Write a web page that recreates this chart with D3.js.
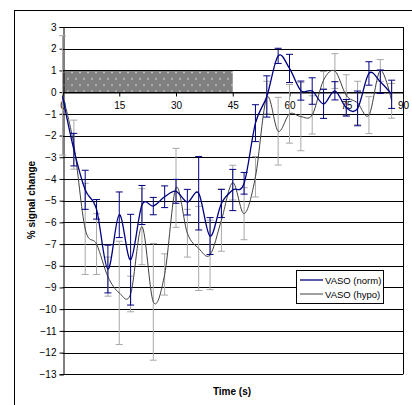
<!DOCTYPE html>
<html><head><meta charset="utf-8">
<script src="https://cdn.jsdelivr.net/npm/d3@7"></script>
<style>
html,body{margin:0;padding:0;background:#fff;}
svg{display:block;font-family:"Liberation Sans",Arial,sans-serif;}
</style></head>
<body><svg id="c" width="412" height="405"></svg>
<script>
const time = [0,3,6,9,12,15,18,21,24,27,30,33,36,39,42,45,48,51,54,57,60,63,66,69,72,75,78,81,84,87];
const norm = [-0.2,-2.65,-4.5,-5.4,-8.15,-5.65,-7.72,-5.2,-5.25,-4.82,-4.57,-5.07,-4.66,-6.63,-5.13,-4.51,-4.2,-1.43,-0.2,1.67,1.09,0.07,0.05,-0.54,0.06,-0.72,-0.75,0.86,0.48,-0.1];
const normErr = [0,0.75,0.9,0.45,1.1,1.05,2.09,0.9,0.4,0.5,0.55,0.59,1.69,0.85,0.65,0.95,0.5,0.85,0.95,0.35,0.65,0.44,0.61,0.67,0.42,0.38,0.8,0.54,0.54,0.65];
const hypo = [-0.15,-2.42,-6.3,-7.0,-8.5,-9.25,-9.3,-6.2,-9.66,-8.4,-4.41,-6.5,-7.2,-7.5,-5.9,-4.17,-5.6,-3.9,-0.25,-1.8,-1.0,-1.13,-1.05,0.55,0.97,-0.15,-0.5,-1.06,1.0,-0.4];
const hypoErr = [2.75,1.13,2.1,1.4,0.9,2.38,0.82,1.75,2.69,0.95,1.82,1.1,1.94,1.6,1.43,0.8,1.2,0.93,0.75,1.56,1.35,1.57,0.88,0.4,0.8,0.95,1.0,0.85,0.5,0.8];
const xTicks = [0,15,30,45,60,75,90];
const yTicks = [3,2,1,0,-1,-2,-3,-4,-5,-6,-7,-8,-9,-10,-11,-12,-13];
const stimulus = [0,45];
const seriesNames = ["VASO (norm)","VASO (hypo)"];

const svg = d3.select("#c");
const x = d3.scaleLinear().domain([0,90]).range([62.5,403]);
const y = d3.scaleLinear().domain([-13,3]).range([374.3,27]);

// outer frame
svg.append("rect").attr("x",14.5).attr("y",10.5).attr("width",430).attr("height",430)
  .attr("fill","none").attr("stroke","#000").attr("stroke-width",1);

// pattern for stimulus box
const defs = svg.append("defs");
const pat = defs.append("pattern").attr("id","dots").attr("patternUnits","userSpaceOnUse")
  .attr("width",8).attr("height",12.6).attr("x",62).attr("y",70);
pat.append("rect").attr("width",8).attr("height",12.6).attr("fill","#808080");
pat.append("circle").attr("cx",2).attr("cy",2.5).attr("r",0.8).attr("fill","#e8e8e8");
pat.append("circle").attr("cx",6).attr("cy",8.8).attr("r",0.8).attr("fill","#e8e8e8");

svg.append("rect").attr("x",x(stimulus[0])).attr("y",y(1))
  .attr("width",x(stimulus[1])-x(stimulus[0])).attr("height",y(0)-y(1))
  .attr("fill","url(#dots)");

// gridlines
svg.append("g").selectAll("line").data(yTicks).join("line")
  .attr("x1",x(0)).attr("x2",x(90))
  .attr("y1",d=>Math.round(y(d))+0.5).attr("y2",d=>Math.round(y(d))+0.5)
  .attr("stroke","#000").attr("stroke-width",1);

// plot right border
svg.append("line").attr("x1",Math.round(x(90))+0.5).attr("x2",Math.round(x(90))+0.5)
  .attr("y1",y(3)).attr("y2",y(-13)).attr("stroke","#000");

// y axis
const ya = svg.append("g").attr("transform",`translate(${Math.round(x(0))+0.5},0)`)
  .call(d3.axisLeft(y).tickValues(yTicks).tickSize(4).tickPadding(3).tickFormat(d3.format("d")));
ya.selectAll("path,line").attr("stroke","#000");
ya.selectAll("text").attr("font-size",10).attr("font-family","Liberation Sans, Arial").attr("fill","#000");

// x axis at 0
const xa = svg.append("g").attr("transform",`translate(0,${Math.round(y(0))+0.5})`)
  .call(d3.axisBottom(x).tickValues(xTicks).tickSize(4).tickPadding(5).tickFormat(d3.format("d")));
xa.selectAll("path,line").attr("stroke","#000");
xa.selectAll("text").attr("font-size",10).attr("font-family","Liberation Sans, Arial").attr("fill","#000");

function drawErr(vals, errs, color){
  const g = svg.append("g").attr("stroke",color).attr("stroke-width",1);
  time.forEach((t,i)=>{
    if(!errs[i]) return;
    const cx = x(t), y1 = y(vals[i]+errs[i]), y2 = y(vals[i]-errs[i]);
    g.append("line").attr("x1",cx).attr("x2",cx).attr("y1",y1).attr("y2",y2);
    g.append("line").attr("x1",cx-3.5).attr("x2",cx+3.5).attr("y1",y1).attr("y2",y1);
    g.append("line").attr("x1",cx-3.5).attr("x2",cx+3.5).attr("y1",y2).attr("y2",y2);
  });
}
const line = d3.line().x((d,i)=>x(time[i])).y(d=>y(d)).curve(d3.curveCardinal.tension(0));

drawErr(hypo, hypoErr, "#a8a8a8");
svg.append("path").attr("d",line(hypo)).attr("fill","none").attr("stroke","#404040").attr("stroke-width",1);
drawErr(norm, normErr, "#000080");
svg.append("path").attr("d",line(norm)).attr("fill","none").attr("stroke","#000080").attr("stroke-width",1.3);

// axis titles
svg.append("text").attr("transform","translate(35,200) rotate(-90)").attr("text-anchor","middle")
  .attr("font-size",10).attr("font-weight","bold").text("% signal change");
svg.append("text").attr("x",232).attr("y",395).attr("text-anchor","middle")
  .attr("font-size",10).attr("font-weight","bold").text("Time (s)");

// legend
const lg = svg.append("g");
lg.append("rect").attr("x",296.5).attr("y",270.5).attr("width",87).attr("height",33)
  .attr("fill","#fff").attr("stroke","#000");
const lcol = ["#000080","#404040"];
seriesNames.forEach((n,i)=>{
  const yy = 280 + i*14;
  lg.append("line").attr("x1",300).attr("x2",323).attr("y1",yy).attr("y2",yy)
    .attr("stroke",lcol[i]).attr("stroke-width",i===0?1.3:1);
  lg.append("text").attr("x",325).attr("y",yy+3.5).attr("font-size",9.5).text(n);
});
</script></body></html>
